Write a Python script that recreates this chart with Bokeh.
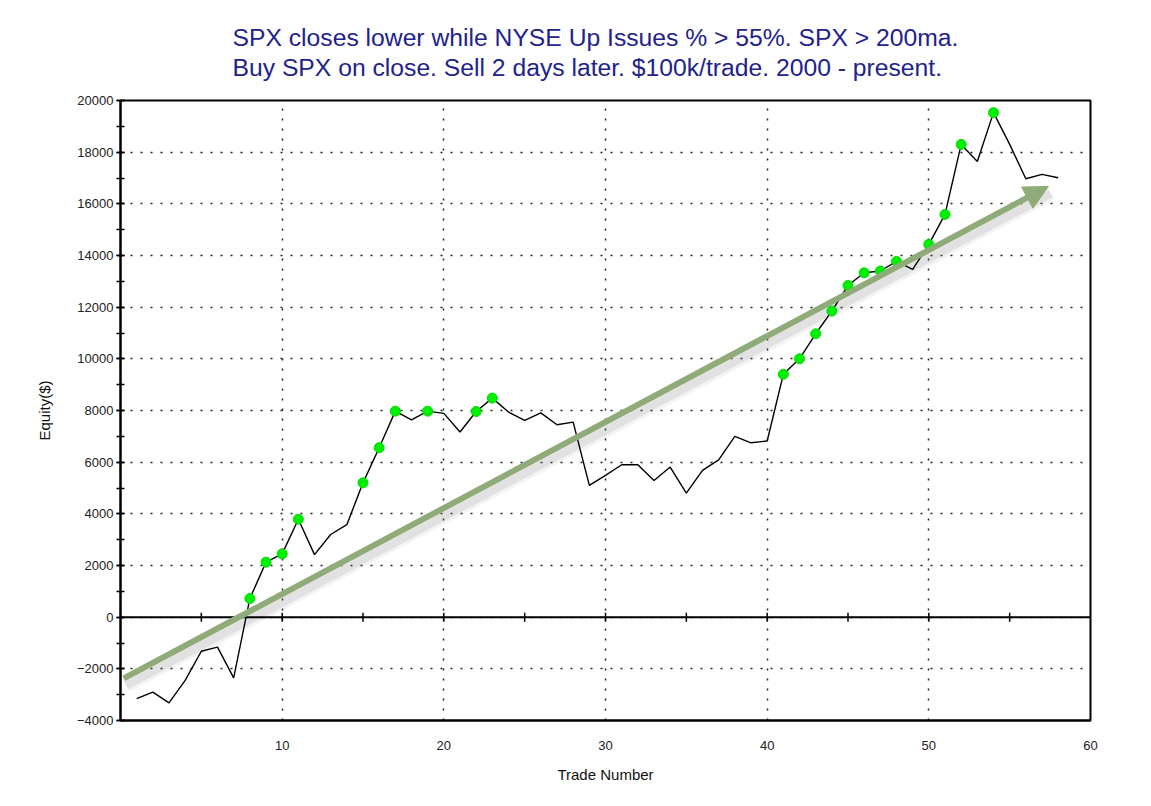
import math
from bokeh.plotting import figure
from bokeh.models import Range1d, SingleIntervalTicker, FixedTicker, Span, Arrow, NormalHead, Title
from bokeh.embed import file_html
from bokeh.resources import INLINE

# ---------------- data ----------------
trades = list(range(1, 59))
equity = [-3150, -2900, -3320, -2450, -1320, -1160, -2350, 720, 2130, 2450,
          3790, 2420, 3200, 3580, 5200, 6560, 7975, 7640, 7975, 7890,
          7170, 7960, 8480, 7940, 7615, 7910, 7450, 7550, 5100, 5490,
          5900, 5900, 5290, 5810, 4800, 5680, 6090, 6995, 6750, 6820,
          9400, 10000, 10970, 11850, 12840, 13330, 13400, 13770, 13460, 14430,
          15590, 18300, 17640, 19530, 18300, 16970, 17140, 17010]
highlight_trades = [8, 9, 10, 11, 15, 16, 17, 19, 22, 23, 41, 42, 43, 44, 45,
                    46, 47, 48, 50, 51, 52, 54]
x_tick_labels = [10, 20, 30, 40, 50, 60]
zero_line_ticks = [5, 10, 15, 20, 25, 30, 35, 40, 45, 50, 55]
trend_x = [0.2, 57.4]
trend_y = [-2370, 16675]
title_line1 = "SPX closes lower while NYSE Up Issues % > 55%. SPX > 200ma."
title_line2 = "Buy SPX on close. Sell 2 days later. $100k/trade. 2000 - present."

hl_y = [equity[trades.index(t)] for t in highlight_trades]

FONT = "Liberation Sans"
TITLE_COLOR = "#22228c"
GREEN = "#8fab7a"

p = figure(width=1135, height=790, output_backend="svg", toolbar_location=None,
           x_range=Range1d(0, 60), y_range=Range1d(-4000, 20000),
           min_border_left=120, min_border_right=45, min_border_top=100, min_border_bottom=70)
p.background_fill_color = "white"
p.border_fill_color = "white"
p.outline_line_color = "black"
p.outline_line_width = 2

# two-line title
p.add_layout(Title(text=title_line1 + "\n" + title_line2, align="left", offset=112,
                   text_font=FONT, text_font_size="24.7px", text_color=TITLE_COLOR,
                   text_font_style="normal", text_line_height=1.12, standoff=39), "above")

# axes
p.yaxis.ticker = SingleIntervalTicker(interval=2000, num_minor_ticks=2)
p.yaxis.major_tick_in = 4
p.yaxis.major_tick_out = 4
p.yaxis.minor_tick_in = 4
p.yaxis.minor_tick_out = 4
p.yaxis.major_tick_line_width = 1.5
p.yaxis.minor_tick_line_width = 1.5
p.yaxis.axis_line_width = 2
p.yaxis.major_label_standoff = 3
p.yaxis.axis_label = "Equity($)"
p.yaxis.axis_label_standoff = 21

p.xaxis.ticker = FixedTicker(ticks=x_tick_labels)
p.xaxis.major_tick_in = 0
p.xaxis.major_tick_out = 0
p.xaxis.minor_tick_line_color = None
p.xaxis.axis_line_width = 2
p.xaxis.major_label_standoff = 20
p.xaxis.axis_label = "Trade Number"
p.xaxis.axis_label_standoff = 13

for ax in (p.xaxis, p.yaxis):
    ax.major_label_text_font = FONT
    ax.major_label_text_font_size = "13px"
    ax.major_label_text_color = "#222222"
    ax.axis_label_text_font = FONT
    ax.axis_label_text_font_size = "15px"
    ax.axis_label_text_font_style = "normal"
    ax.axis_label_text_color = "#111111"
    ax.axis_line_color = "black"
    ax.major_tick_line_color = "black"

# grids (dotted)
for g in (p.xgrid, p.ygrid):
    g.grid_line_color = "#222222"
    g.grid_line_width = 1.5
    g.grid_line_dash = "2 8"

# zero line with ticks
p.add_layout(Span(location=0, dimension="width", line_color="black", line_width=2))
p.scatter(x=zero_line_ticks, y=[0] * len(zero_line_ticks), marker="dash", angle=math.pi / 2,
          size=9, line_color="black", line_width=1.5)

# trend arrow shadow + arrow
sx = [v + 0.15 for v in trend_x]
sy = [v - 280 for v in trend_y]
p.line(sx, sy, line_color="#888888", line_width=14, line_alpha=0.10)
p.line(sx, sy, line_color="#777777", line_width=8, line_alpha=0.14)
p.add_layout(Arrow(end=NormalHead(size=24, fill_color=GREEN, line_color=GREEN, line_width=1),
                   x_start=trend_x[0], y_start=trend_y[0], x_end=trend_x[1], y_end=trend_y[1],
                   line_color=GREEN, line_width=6, line_cap="butt"))

# equity line and highlighted points
p.line(trades, equity, line_color="black", line_width=1.4)
p.scatter(highlight_trades, hl_y, size=10, fill_color="#00ee00", line_color="#00dd00")

html = file_html(p, INLINE)
open("out.html", "w").write(html)
